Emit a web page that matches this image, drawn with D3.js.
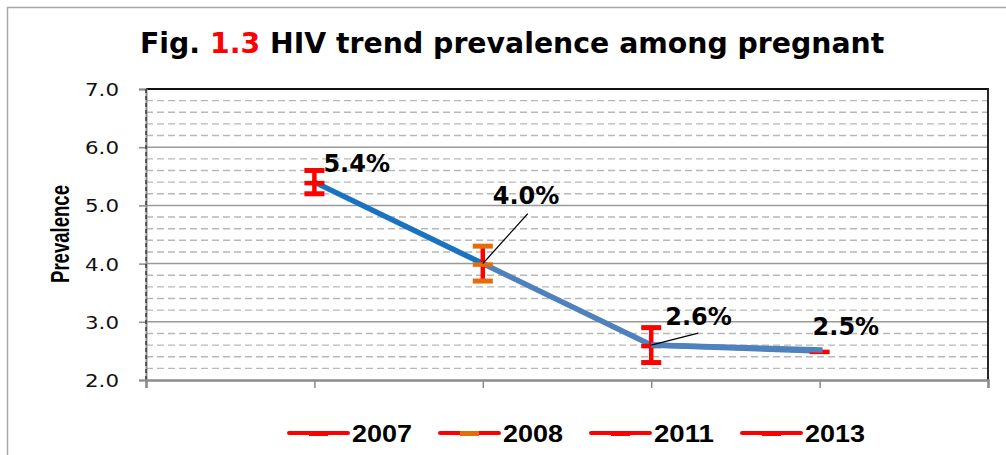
<!DOCTYPE html>
<html>
<head>
<meta charset="utf-8">
<script src="https://cdn.jsdelivr.net/npm/d3@7/dist/d3.min.js"></script>
<style>
  body { margin: 0; background: #fff; }
  svg { display: block; }
</style>
</head>
<body>
<svg id="chart"></svg>
<script>
// Data
const years = ["2007", "2008", "2011", "2013"];
const prevalence = [5.4, 4.0, 2.6, 2.5];
const errorMargin = [0.2, 0.3, 0.3, 0];
const valueLabels = ["5.4%", "4.0%", "2.6%", "2.5%"];
const yTickValues = [2, 3, 4, 5, 6, 7];

// Styles per series
const barColors = ["#ff0000", "#ff0000", "#ff0000", "#ff0000"];
const capColors = ["#ff0000", "#e46c0a", "#ff0000", "#ff0000"];
const markerColors = ["#ff0000", "#e46c0a", "#ff0000", "#ff0000"];
const segmentColors = ["#1a73c2", "#4f81bd", "#4f81bd"];

const W = 1006, H = 455;
const plot = { left: 146, top: 89, right: 988, bottom: 380 };

const svg = d3.select("#chart").attr("width", W).attr("height", H);

// stretch text horizontally so its width matches the target
function fitWidth(sel, target) {
  sel.each(function () {
    const t = d3.select(this);
    const x = +t.attr("x") || 0, y = +t.attr("y") || 0;
    t.attr("x", 0).attr("y", 0);
    const w = this.getBBox().width;
    const s = target / w;
    t.attr("transform", `translate(${x},${y}) scale(${s},1)`);
  });
}

// outer chart border
svg.append("rect")
  .attr("x", 7.5).attr("y", 7.5)
  .attr("width", 1010).attr("height", 460)
  .attr("fill", "#fff")
  .attr("stroke", "#a6a6a6").attr("stroke-width", 1.5);

// scales
const x = d3.scalePoint()
  .domain(["start", ...years, "end"])
  .range([plot.left, plot.right]);

const y = d3.scaleLinear()
  .domain([2, 7])
  .range([plot.bottom, plot.top]);

// minor gridlines (4 between each major)
const minor = [];
yTickValues.slice(0, -1).forEach(v => {
  for (let k = 1; k < 5; k++) minor.push(v + k * 0.2);
});
svg.append("g").selectAll("line")
  .data(minor)
  .enter().append("line")
  .attr("x1", plot.left).attr("x2", plot.right)
  .attr("y1", d => y(d)).attr("y2", d => y(d))
  .attr("stroke", "#b8b8b8").attr("stroke-width", 1.4)
  .attr("stroke-dasharray", "7,4");

// major gridlines
svg.append("g").selectAll("line")
  .data(yTickValues.slice(1, -1))
  .enter().append("line")
  .attr("x1", plot.left).attr("x2", plot.right)
  .attr("y1", d => y(d)).attr("y2", d => y(d))
  .attr("stroke", "#9a9a9a").attr("stroke-width", 1.5);

// plot border top/right
svg.append("path")
  .attr("d", `M${plot.left},${plot.top}H${plot.right}V${plot.bottom}`)
  .attr("fill", "none").attr("stroke", "#111").attr("stroke-width", 1.8);

// y axis
const yAxis = svg.append("g")
  .attr("transform", `translate(${plot.left},0)`)
  .call(d3.axisLeft(y).tickValues(yTickValues).tickSize(7).tickFormat(d3.format(".1f")));
yAxis.select(".domain").attr("stroke", "#8c8c8c").attr("stroke-width", 2);
yAxis.selectAll(".tick line").attr("stroke", "#8c8c8c").attr("stroke-width", 1.5);
yAxis.selectAll(".tick text")
  .attr("font-family", "DejaVu Sans, Verdana, sans-serif")
  .attr("font-size", 17)
  .attr("fill", "#111")
  .attr("text-anchor", "end")
  .attr("dy", null)
  .attr("x", -27).attr("y", 6.5)
  .call(fitWidth, 34);
// dashed dark overlay on the left axis
svg.append("line")
  .attr("x1", plot.left).attr("x2", plot.left)
  .attr("y1", plot.top).attr("y2", plot.bottom)
  .attr("stroke", "#222").attr("stroke-width", 1.2)
  .attr("stroke-dasharray", "4,3");

// x axis
const xAxis = svg.append("g")
  .attr("transform", `translate(0,${plot.bottom})`)
  .call(d3.axisBottom(x).tickSize(8).tickFormat(""));
xAxis.select(".domain").attr("stroke", "#8c8c8c").attr("stroke-width", 2.5);
xAxis.selectAll(".tick line").attr("stroke", "#8c8c8c").attr("stroke-width", 1.5);

// trend line, coloured segment by segment
const pts = years.map((d, i) => [x(d), y(prevalence[i])]);
svg.append("g").selectAll("line")
  .data(d3.pairs(pts))
  .enter().append("line")
  .attr("x1", d => d[0][0]).attr("y1", d => d[0][1])
  .attr("x2", d => d[1][0]).attr("y2", d => d[1][1])
  .attr("stroke", (d, i) => segmentColors[i])
  .attr("stroke-width", 5.5)
  .attr("stroke-linecap", "round");

// error bars
const series = years.map((d, i) => ({
  year: d, v: prevalence[i], e: errorMargin[i],
  bar: barColors[i], cap: capColors[i], marker: markerColors[i]
}));
const eb = svg.append("g").selectAll("g")
  .data(series)
  .enter().append("g");
eb.filter(d => d.e > 0).append("line")
  .attr("x1", d => x(d.year)).attr("x2", d => x(d.year))
  .attr("y1", d => y(d.v - d.e)).attr("y2", d => y(d.v + d.e))
  .attr("stroke", d => d.bar).attr("stroke-width", 4.5);
eb.filter(d => d.e > 0).selectAll(".cap")
  .data(d => [d.v - d.e, d.v + d.e].map(c => ({ c, d })))
  .enter().append("line")
  .attr("x1", o => x(o.d.year) - 10).attr("x2", o => x(o.d.year) + 10)
  .attr("y1", o => y(o.c)).attr("y2", o => y(o.c))
  .attr("stroke", o => o.d.cap).attr("stroke-width", 5);
// dash markers
eb.append("line")
  .attr("x1", d => x(d.year) - 10).attr("x2", d => x(d.year) + 10)
  .attr("y1", d => y(d.v) + 1).attr("y2", d => y(d.v) + 1)
  .attr("stroke", d => d.marker).attr("stroke-width", 4.5);
// redraw the line over the 2013 marker like the reference
svg.append("line")
  .attr("x1", pts[2][0]).attr("y1", pts[2][1])
  .attr("x2", pts[3][0] + 3).attr("y2", pts[3][1] - 1)
  .attr("stroke", segmentColors[2]).attr("stroke-width", 5.5);

// value labels with leader lines
const labelOffset = [[9, -10], [10, -60], [14, -20], [-7, -16]];
const leaderEnd = [null, [45, -50], [47, -12], null];
years.forEach((d, i) => {
  const [px, py] = pts[i];
  if (leaderEnd[i]) {
    svg.append("line")
      .attr("x1", px).attr("y1", py)
      .attr("x2", px + leaderEnd[i][0]).attr("y2", py + leaderEnd[i][1])
      .attr("stroke", "#000").attr("stroke-width", 1.3);
  }
  svg.append("text")
    .attr("x", px + labelOffset[i][0]).attr("y", py + labelOffset[i][1])
    .attr("font-family", "DejaVu Sans, Verdana, sans-serif")
    .attr("font-weight", "bold").attr("font-size", 24)
    .attr("fill", "#000")
    .text(valueLabels[i]);
});

// title
const title = svg.append("text")
  .attr("x", 140).attr("y", 53)
  .attr("font-family", "DejaVu Sans, Verdana, sans-serif")
  .attr("font-weight", "bold").attr("font-size", 29)
  .attr("fill", "#000");
title.append("tspan").text("Fig. ");
title.append("tspan").attr("fill", "#ff0000").text("1.3");
title.append("tspan").text(" HIV trend prevalence among pregnant");
title.call(fitWidth, 745);

// y axis title
svg.append("text")
  .attr("transform", "translate(69,234) rotate(-90)")
  .attr("text-anchor", "middle")
  .attr("font-family", "Liberation Sans Narrow, Arial Narrow, Liberation Sans, sans-serif")
  .attr("font-weight", "bold").attr("font-size", 25)
  .attr("textLength", 98).attr("lengthAdjust", "spacingAndGlyphs")
  .attr("fill", "#000")
  .text("Prevalence");

// legend
const legend = svg.append("g").selectAll("g")
  .data(series)
  .enter().append("g")
  .attr("transform", (d, i) => `translate(${289 + i * 151},433)`);
legend.append("line")
  .attr("x1", 0).attr("x2", 59).attr("y1", 0).attr("y2", 0)
  .attr("stroke", d => d.bar).attr("stroke-width", 4)
  .attr("stroke-linecap", "round");
legend.append("line")
  .attr("x1", 20).attr("x2", 39).attr("y1", 0.5).attr("y2", 0.5)
  .attr("stroke", d => d.marker).attr("stroke-width", 5);
legend.append("text")
  .attr("x", 63).attr("y", 9)
  .attr("font-family", "Liberation Sans, Arial, sans-serif")
  .attr("font-weight", "bold").attr("font-size", 24)
  .attr("fill", "#000")
  .text(d => d.year)
  .call(fitWidth, 60);
</script>
</body>
</html>
